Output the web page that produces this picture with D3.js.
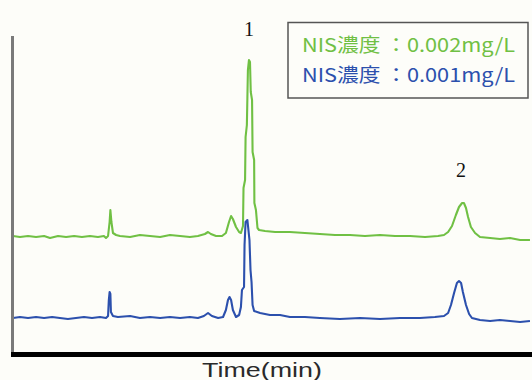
<!DOCTYPE html>
<html>
<head>
<meta charset="utf-8">
<script src="https://cdn.jsdelivr.net/npm/d3@7"></script>
<style>
  body { margin: 0; background: #fdfdf9; }
  svg { display: block; }
</style>
</head>
<body>
<div id="container"></div>
<script>
// retention time (min) and detector signal
var greenTime = [0.00, 0.27, 0.58, 0.89, 1.20, 1.43, 1.74, 2.05, 2.36, 2.66, 2.97, 3.28, 3.51, 3.59, 3.67, 3.73, 3.76, 3.80, 3.86, 3.98,
  4.13, 4.52, 4.90, 5.29, 5.68, 6.06, 6.45, 6.83, 7.14, 7.41, 7.53, 7.64, 7.84, 8.07, 8.22, 8.34, 8.42, 8.49, 8.61, 8.73,
  8.80, 8.88, 8.90, 8.96, 8.98, 9.03, 9.07, 9.11, 9.15, 9.18, 9.23, 9.25, 9.31, 9.32, 9.38, 9.44, 9.50, 9.73, 10.12, 10.69,
  11.27, 11.85, 12.43, 13.01, 13.59, 14.17, 14.75, 15.33, 15.91, 16.41, 16.64, 16.80, 16.95, 17.10, 17.22, 17.34, 17.41, 17.49, 17.57, 17.68,
  17.84, 18.03, 18.42, 18.80, 19.19, 19.58, 19.96];
var greenSignal = [118, 117, 118, 117, 118, 116, 118, 117, 118, 117, 118, 117, 118, 116, 118, 132, 144, 132, 121, 119,
  118, 117, 119, 118, 117, 119, 118, 117, 118, 120, 122, 120, 118, 118, 121, 132, 138, 135, 127, 122,
  121, 128, 166, 174, 217, 229, 284, 294, 292, 262, 254, 202, 194, 151, 144, 126, 124, 123, 122, 122,
  121, 120, 119, 119, 118, 119, 118, 118, 117, 118, 119, 122, 128, 139, 147, 151, 151, 146, 137, 127,
  121, 117, 116, 115, 116, 114, 114];

var blueTime = [0.00, 0.27, 0.58, 0.89, 1.20, 1.51, 1.81, 2.12, 2.43, 2.74, 3.05, 3.36, 3.59, 3.67, 3.70, 3.73, 3.76, 3.78, 3.86, 4.05,
  4.52, 4.90, 5.29, 5.68, 6.06, 6.45, 6.83, 7.14, 7.37, 7.53, 7.68, 7.92, 8.11, 8.22, 8.30, 8.36, 8.42, 8.49, 8.61, 8.73,
  8.80, 8.84, 8.92, 8.94, 8.98, 9.05, 9.09, 9.13, 9.17, 9.21, 9.25, 9.31, 9.54, 9.92, 10.31, 10.69, 11.27, 11.85, 12.62, 13.40,
  14.17, 14.94, 15.71, 16.29, 16.64, 16.80, 16.91, 17.03, 17.14, 17.22, 17.30, 17.37, 17.49, 17.61, 17.72, 18.03, 18.42, 18.80, 19.19, 19.58,
  19.96];
var blueSignal = [36, 37, 36, 37, 36, 37, 36, 35, 36, 37, 36, 37, 36, 38, 54, 62, 60, 42, 38, 37,
  38, 36, 37, 36, 37, 36, 37, 36, 38, 41, 38, 36, 37, 44, 54, 57, 54, 44, 37, 39,
  47, 64, 67, 109, 132, 134, 124, 114, 84, 72, 49, 43, 41, 39, 39, 37, 37, 36, 35, 36,
  35, 36, 36, 37, 38, 41, 49, 61, 71, 73, 71, 62, 49, 40, 36, 34, 33, 34, 33, 32,
  33];

var peakLabels = ["1", "2"];
var peakTime = [9.11, 17.3];
var peakHeight = [318, 177];

var legendLabels = ["NIS濃度 ：0.002mg/L", "NIS濃度 ：0.001mg/L"];
var axisTitle = "Time(min)";

var width = 532, height = 380;
var margin = { left: 13, right: 1, top: 36, bottom: 26 };
var green = "#70c044", blue = "#2c50ad";

var svg = d3.select('#container').append('svg')
  .attr('width', width)
  .attr('height', height);

svg.append('rect').attr('width', width).attr('height', height).attr('fill', '#fdfdf9');

var x = d3.scaleLinear().domain([0, 20]).range([margin.left, width - margin.right]);
var y = d3.scaleLinear().domain([0, 318]).range([height - margin.bottom, margin.top]);

var line = d3.line().x(d => x(d[0])).y(d => y(d[1]));

var series = [
  { name: legendLabels[0], color: green, pts: d3.zip(greenTime, greenSignal) },
  { name: legendLabels[1], color: blue, pts: d3.zip(blueTime, blueSignal) }
];

svg.selectAll('path.trace')
  .data(series)
  .join('path')
  .attr('class', 'trace')
  .attr('fill', 'none')
  .attr('stroke', d => d.color)
  .attr('stroke-width', 2.1)
  .attr('stroke-linejoin', 'round')
  .attr('d', d => line(d.pts));

// axes: grey left spine, thick black baseline
svg.append('line')
  .attr('x1', x(0) - 0.5).attr('x2', x(0) - 0.5)
  .attr('y1', margin.top).attr('y2', y(0))
  .attr('stroke', '#7a7a7a').attr('stroke-width', 3);

svg.append('line')
  .attr('x1', x(0) - 2).attr('x2', width)
  .attr('y1', y(0) + 0.5).attr('y2', y(0) + 0.5)
  .attr('stroke', '#000').attr('stroke-width', 5);

svg.append('text')
  .attr('x', 202).attr('y', 377)
  .attr('font-family', 'Liberation Sans, Arial, sans-serif')
  .attr('font-size', 21)
  .attr('fill', '#2a2a2a')
  .attr('textLength', 120)
  .attr('lengthAdjust', 'spacingAndGlyphs')
  .text(axisTitle);

// peak numbers
svg.selectAll('text.peak')
  .data(peakLabels)
  .join('text')
  .attr('class', 'peak')
  .attr('x', (d, i) => x(peakTime[i]))
  .attr('y', (d, i) => y(peakHeight[i]))
  .attr('text-anchor', 'middle')
  .attr('font-family', 'Liberation Serif, Times New Roman, serif')
  .attr('font-size', 20)
  .attr('fill', '#111')
  .text(d => d);

// legend box
var legend = svg.append('g');
legend.append('rect')
  .attr('x', 288).attr('y', 22.5)
  .attr('width', 240).attr('height', 75.5)
  .attr('fill', '#fdfdf9')
  .attr('stroke', '#555').attr('stroke-width', 1.5);

legend.selectAll('text')
  .data(series)
  .join('text')
  .attr('x', 302)
  .attr('y', (d, i) => 52 + i * 30)
  .attr('font-family', 'Noto Sans CJK JP, Noto Sans, sans-serif')
  .attr('font-size', 19)
  .attr('fill', d => d.color)
  .attr('textLength', 213)
  .attr('lengthAdjust', 'spacingAndGlyphs')
  .text(d => d.name);
</script>
</body>
</html>
